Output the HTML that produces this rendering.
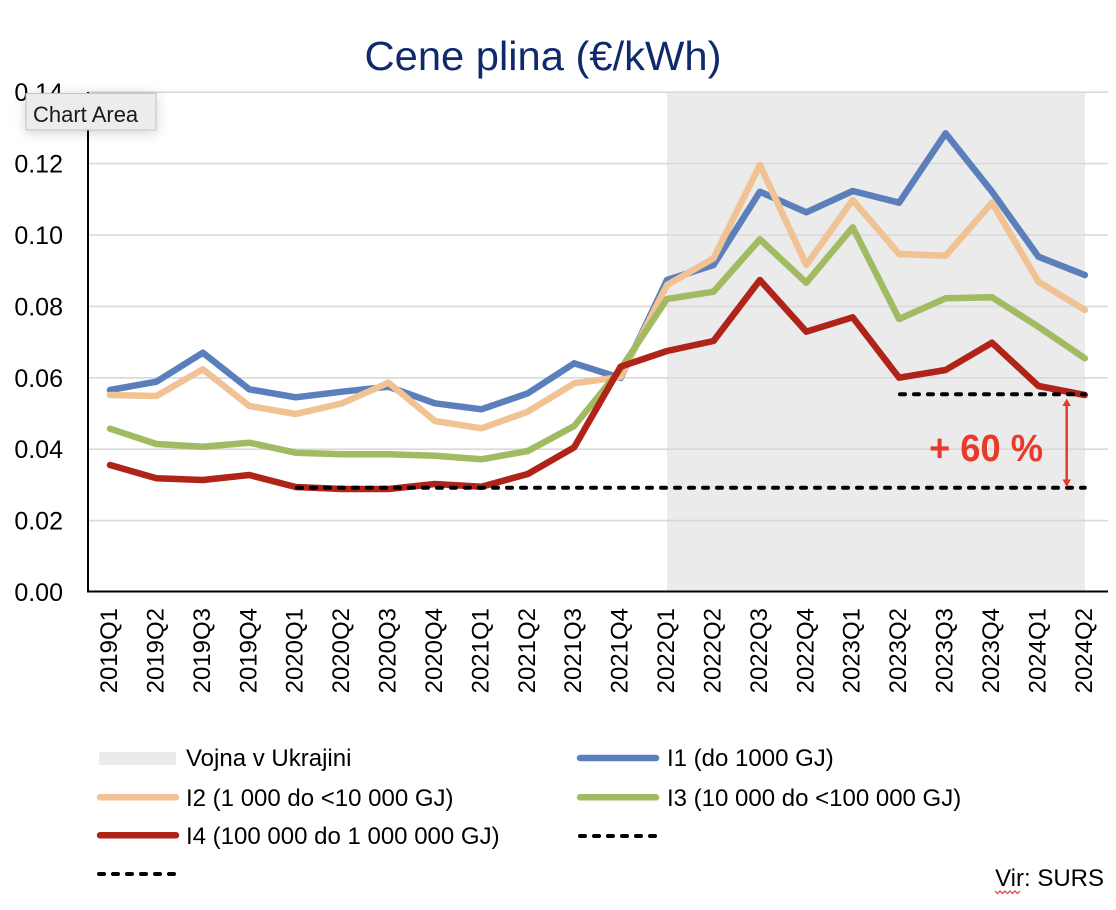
<!DOCTYPE html>
<html>
<head>
<meta charset="utf-8">
<style>
  html, body { margin:0; padding:0; background:#ffffff; }
  svg { display:block; font-family:"Liberation Sans", Arial, sans-serif; }
</style>
</head>
<body>
<svg width="1116" height="910" viewBox="0 0 1116 910" xmlns="http://www.w3.org/2000/svg">
  <defs>
    <filter id="sh" x="-40%" y="-80%" width="180%" height="260%">
      <feDropShadow dx="0" dy="2" stdDeviation="6" flood-color="#000" flood-opacity="0.18"/>
    </filter>
  </defs>
  <rect x="0" y="0" width="1116" height="910" fill="#ffffff"/>

  <!-- Title -->
  <text x="543" y="70" text-anchor="middle" font-size="41" fill="#0f2a6b" textLength="357" lengthAdjust="spacingAndGlyphs">Cene plina (€/kWh)</text>

  <!-- shaded region -->
  <rect x="667" y="92" width="418" height="499" fill="#ebebeb"/>

  <!-- gridlines -->
  <g stroke="#d9d9d9" stroke-width="1.6">
    <line x1="88" y1="92.2" x2="1108" y2="92.2"/>
    <line x1="88" y1="163.6" x2="1108" y2="163.6"/>
    <line x1="88" y1="235" x2="1108" y2="235"/>
    <line x1="88" y1="306.4" x2="1108" y2="306.4"/>
    <line x1="88" y1="377.8" x2="1108" y2="377.8"/>
    <line x1="88" y1="449.2" x2="1108" y2="449.2"/>
    <line x1="88" y1="520.6" x2="1108" y2="520.6"/>
  </g>

  <!-- axes -->
  <line x1="88" y1="92" x2="88" y2="592" stroke="#000" stroke-width="2"/>
  <line x1="87" y1="591.5" x2="1108" y2="591.5" stroke="#000" stroke-width="2"/>

  <!-- y labels -->
  <g font-size="25" fill="#000" text-anchor="end">
    <text x="63" y="601">0.00</text>
    <text x="63" y="529.6">0.02</text>
    <text x="63" y="458.2">0.04</text>
    <text x="63" y="386.8">0.06</text>
    <text x="63" y="315.4">0.08</text>
    <text x="63" y="244">0.10</text>
    <text x="63" y="172.6">0.12</text>
    <text x="63" y="101.2">0.14</text>
  </g>

  <!-- x labels -->
  <g font-size="24" fill="#000" text-anchor="end">
    <text transform="translate(117,608) rotate(-90)">2019Q1</text>
    <text transform="translate(163.4,608) rotate(-90)">2019Q2</text>
    <text transform="translate(209.8,608) rotate(-90)">2019Q3</text>
    <text transform="translate(256.3,608) rotate(-90)">2019Q4</text>
    <text transform="translate(302.7,608) rotate(-90)">2020Q1</text>
    <text transform="translate(349.1,608) rotate(-90)">2020Q2</text>
    <text transform="translate(395.5,608) rotate(-90)">2020Q3</text>
    <text transform="translate(441.9,608) rotate(-90)">2020Q4</text>
    <text transform="translate(488.4,608) rotate(-90)">2021Q1</text>
    <text transform="translate(534.8,608) rotate(-90)">2021Q2</text>
    <text transform="translate(581.2,608) rotate(-90)">2021Q3</text>
    <text transform="translate(627.6,608) rotate(-90)">2021Q4</text>
    <text transform="translate(674,608) rotate(-90)">2022Q1</text>
    <text transform="translate(720.5,608) rotate(-90)">2022Q2</text>
    <text transform="translate(766.9,608) rotate(-90)">2022Q3</text>
    <text transform="translate(813.3,608) rotate(-90)">2022Q4</text>
    <text transform="translate(859.7,608) rotate(-90)">2023Q1</text>
    <text transform="translate(906.1,608) rotate(-90)">2023Q2</text>
    <text transform="translate(952.6,608) rotate(-90)">2023Q3</text>
    <text transform="translate(999,608) rotate(-90)">2023Q4</text>
    <text transform="translate(1045.4,608) rotate(-90)">2024Q1</text>
    <text transform="translate(1091.8,608) rotate(-90)">2024Q2</text>
  </g>

  <!-- series -->
  <g fill="none" stroke-width="6.5" stroke-linejoin="round" stroke-linecap="round">
    <polyline stroke="#5a7fbb" points="110,390 156.4,381.7 202.8,352.7 249.3,389.3 295.7,397.3 342.1,391.7 388.5,386.7 434.9,403.3 481.4,409.3 527.8,393.3 574.2,363.3 620.6,378 667,280 713.5,265 759.9,191.7 806.3,212.3 852.7,191 899.1,202.7 945.6,133.3 992,191.7 1038.4,256.7 1084.8,275"/>
    <polyline stroke="#f0c294" points="110,395 156.4,396 202.8,369.3 249.3,406 295.7,414 342.1,403.3 388.5,382.7 434.9,421 481.4,428.3 527.8,411.7 574.2,383.3 620.6,377 667,285 713.5,258.3 759.9,165 806.3,265 852.7,200 899.1,254 945.6,255.7 992,202.7 1038.4,281.7 1084.8,310"/>
    <polyline stroke="#a0bb62" points="110,428.7 156.4,444 202.8,446.7 249.3,442.7 295.7,452.7 342.1,454.3 388.5,454.3 434.9,455.7 481.4,459.3 527.8,451 574.2,426 620.6,369 667,299 713.5,291.7 759.9,239.3 806.3,282.7 852.7,227.3 899.1,319 945.6,298.3 992,297.3 1038.4,326.7 1084.8,358.3"/>
    <polyline stroke="#b02318" points="110,465 156.4,478.3 202.8,480 249.3,475 295.7,487 342.1,489 388.5,489 434.9,484 481.4,486.7 527.8,474 574.2,447.3 620.6,366.7 667,351 713.5,341 759.9,280 806.3,331.7 852.7,317.3 899.1,377.7 945.6,370 992,342.7 1038.4,386 1084.8,395"/>
  </g>

  <!-- dashed reference lines -->
  <g stroke="#000" stroke-width="4" stroke-dasharray="5,9" stroke-linecap="round" fill="none">
    <line x1="297" y1="487.7" x2="1084.8" y2="487.7"/>
    <line x1="900" y1="394.3" x2="1084.8" y2="394.3"/>
  </g>

  <!-- arrow -->
  <g stroke="#e8392b" fill="#e8392b">
    <line x1="1066.7" y1="404" x2="1066.7" y2="482" stroke-width="2.5"/>
    <polygon points="1066.7,398.5 1062.5,406 1070.9,406" stroke="none"/>
    <polygon points="1066.7,487 1062.5,479.5 1070.9,479.5" stroke="none"/>
  </g>
  <text x="929" y="461" font-size="38" font-weight="bold" fill="#e8392b" textLength="114" lengthAdjust="spacingAndGlyphs">+ 60 %</text>

  <!-- Chart Area tooltip -->
  <g filter="url(#sh)">
    <rect x="26" y="93.5" width="130" height="36.5" fill="#ececec" stroke="#c4c4c4" stroke-width="1"/>
  </g>
  <text x="33" y="122" font-size="22" fill="#1a1a1a">Chart Area</text>

  <!-- Legend -->
  <rect x="99" y="752" width="77" height="13" fill="#ebebeb"/>
  <text x="186" y="766" font-size="24" fill="#000">Vojna v Ukrajini</text>

  <line x1="580" y1="758" x2="656" y2="758" stroke="#5a7fbb" stroke-width="6.5" stroke-linecap="round"/>
  <text x="667" y="766" font-size="24" fill="#000">I1 (do 1000 GJ)</text>

  <line x1="100" y1="797.3" x2="176" y2="797.3" stroke="#f0c294" stroke-width="6.5" stroke-linecap="round"/>
  <text x="186" y="806" font-size="24" fill="#000">I2 (1 000 do &lt;10 000 GJ)</text>

  <line x1="580" y1="797.3" x2="656" y2="797.3" stroke="#a0bb62" stroke-width="6.5" stroke-linecap="round"/>
  <text x="667" y="806" font-size="24" fill="#000">I3 (10 000 do &lt;100 000 GJ)</text>

  <line x1="100" y1="835.3" x2="176" y2="835.3" stroke="#b02318" stroke-width="6.5" stroke-linecap="round"/>
  <text x="186" y="844" font-size="24" fill="#000">I4 (100 000 do 1 000 000 GJ)</text>

  <line x1="580" y1="836" x2="658" y2="836" stroke="#000" stroke-width="4" stroke-dasharray="5,9" stroke-linecap="round"/>
  <line x1="99" y1="874" x2="177" y2="874" stroke="#000" stroke-width="4" stroke-dasharray="5,9" stroke-linecap="round"/>

  <!-- Source -->
  <text x="1104" y="886" font-size="24" fill="#000" text-anchor="end">Vir: SURS</text>
  <path d="M995,891 l2.5,2.5 l2.5,-2.5 l2.5,2.5 l2.5,-2.5 l2.5,2.5 l2.5,-2.5 l2.5,2.5 l2.5,-2.5 l2.5,2.5 l2.5,-2.5" fill="none" stroke="#e83a2e" stroke-width="1.2"/>
</svg>
</body>
</html>
